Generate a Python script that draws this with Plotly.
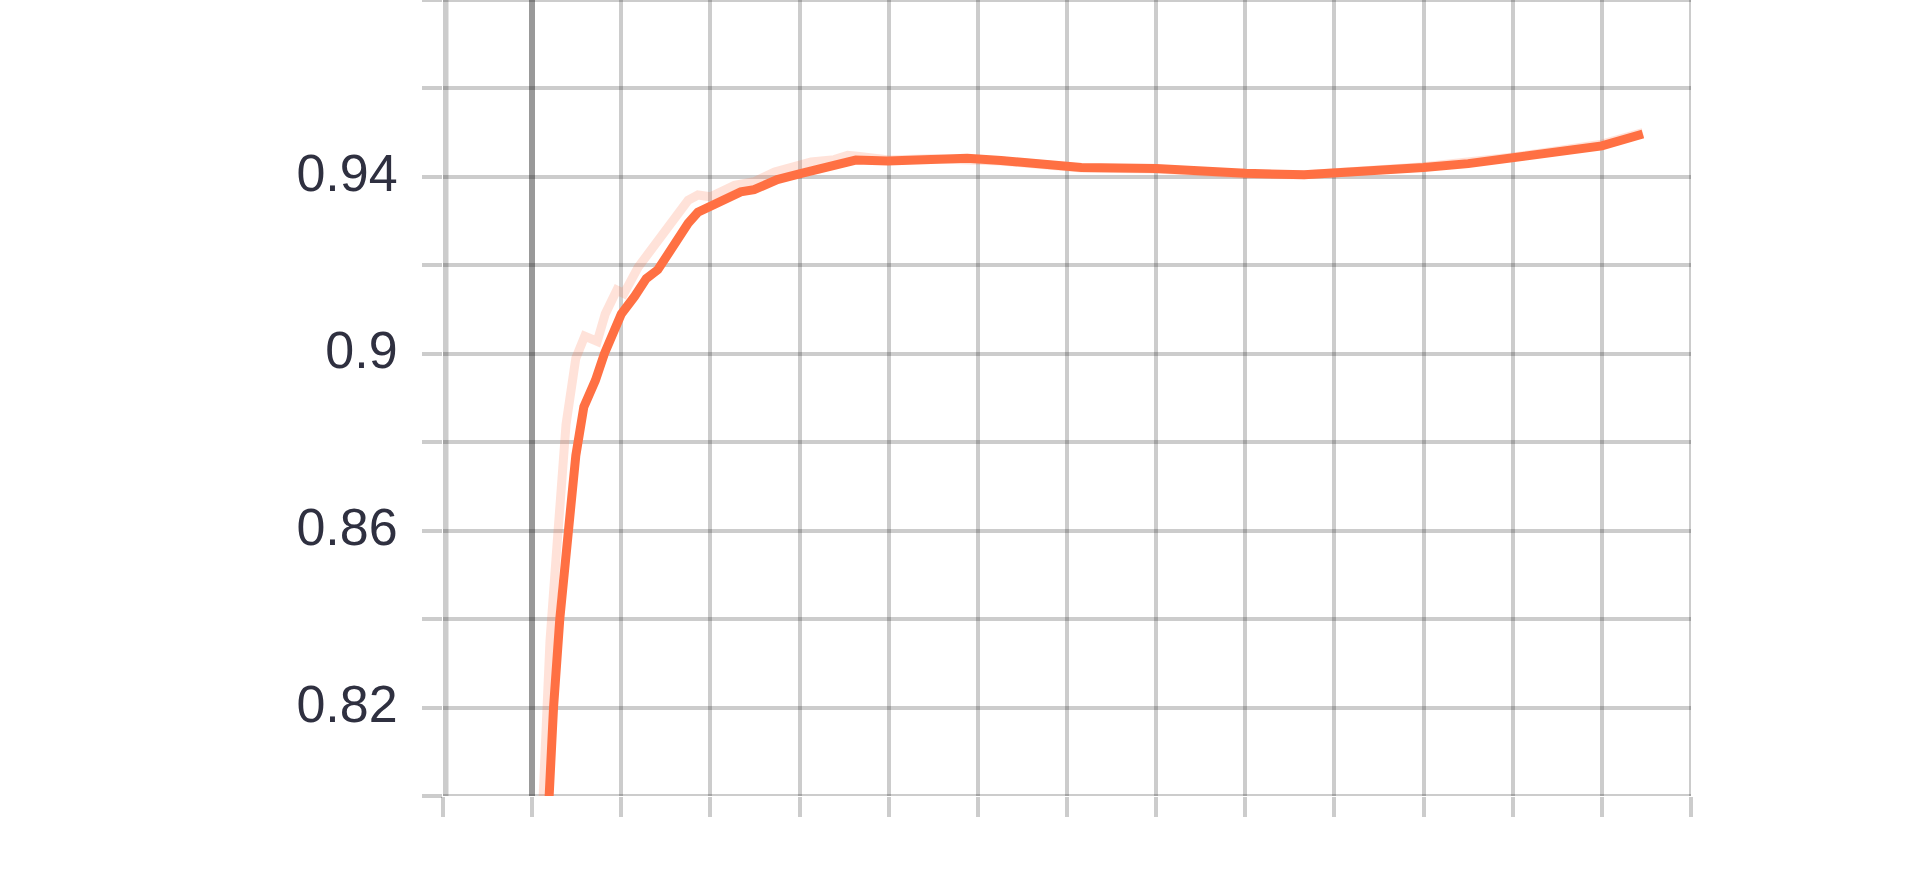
import plotly.graph_objects as go

# Training steps (arbitrary units; axis shows no labels)
raw_steps = [0.08, 0.12, 0.20, 0.28, 0.38, 0.49, 0.59, 0.73, 0.82, 0.95, 1.03, 1.19,
             1.41, 1.60, 1.75, 1.86, 2.00, 2.27, 2.49, 2.72, 2.87, 3.13, 3.39, 3.54,
             3.65, 4.00, 4.47, 4.88, 5.26, 6.16, 7.00, 8.00, 8.66, 9.26, 10.00, 11.01,
             12.00, 12.46]
raw_values = [0.780, 0.800, 0.835, 0.857, 0.884, 0.899, 0.904, 0.9028, 0.909, 0.9144,
              0.9136, 0.9196, 0.9257, 0.931, 0.9347, 0.9359, 0.9355, 0.9381, 0.9389,
              0.9411, 0.9419, 0.9434, 0.9439, 0.9449, 0.9447, 0.9438, 0.9441, 0.944,
              0.9436, 0.942, 0.9418, 0.9406, 0.9405, 0.9413, 0.9423, 0.9445, 0.9474,
              0.9500]

smooth_steps = [0.08, 0.18, 0.24, 0.31, 0.41, 0.49, 0.58, 0.71, 0.81, 0.93, 1.00, 1.15,
                1.28, 1.41, 1.60, 1.75, 1.86, 2.08, 2.34, 2.49, 2.75, 3.02, 3.24, 3.43,
                3.63, 3.99, 4.47, 4.88, 5.26, 5.60, 6.16, 7.00, 7.50, 8.00, 8.66, 9.26,
                10.00, 10.50, 11.01, 11.50, 12.00, 12.46]
smooth_values = [0.755, 0.800, 0.820, 0.840, 0.860, 0.877, 0.888, 0.894, 0.900, 0.906,
                 0.909, 0.913, 0.917, 0.919, 0.925, 0.9295, 0.932, 0.934, 0.9366, 0.9371,
                 0.9394, 0.9408, 0.942, 0.9426, 0.9438, 0.9436, 0.9439, 0.9442, 0.9437,
                 0.9432, 0.9421, 0.9419, 0.9413, 0.9408, 0.9405, 0.9411, 0.9421, 0.9430,
                 0.9442, 0.9455, 0.947, 0.9497]

x_ticks = list(range(-1, 14))
y_ticks = [0.80, 0.82, 0.84, 0.86, 0.88, 0.90, 0.92, 0.94, 0.96, 0.98]
y_tick_text = ["", "0.82", "", "0.86", "", "0.9", "", "0.94", "", ""]

GRID = "rgba(0,0,0,0.2)"
ORANGE = "#ff7043"

fig = go.Figure()
fig.add_trace(go.Scatter(x=raw_steps, y=raw_values, mode="lines",
                         line=dict(color="rgba(255,112,67,0.2)", width=9),
                         hoverinfo="skip", showlegend=False))
fig.add_trace(go.Scatter(x=smooth_steps, y=smooth_values, mode="lines",
                         line=dict(color=ORANGE, width=9),
                         showlegend=False))

# grid lines that sit on the plot edges (plotly hides them); clipped to the plot area
x0, x1 = x_ticks[0], x_ticks[-1]
y0, y1 = y_ticks[0], y_ticks[-1]
edge_lines = [
    (x0, y0, x0, y1, 11),
    (x1, y0, x1, y1, 4),
    (x0, y0, x1, y0, 4),
    (x0, y1, x1, y1, 4),
]
for ax0, ay0, ax1, ay1, w in edge_lines:
    fig.add_shape(type="line", xref="x", yref="y", x0=ax0, y0=ay0, x1=ax1, y1=ay1,
                  line=dict(color=GRID, width=w), layer="below")

fig.update_layout(
    width=1920, height=893,
    margin=dict(l=443, r=229, t=0, b=97, pad=0),
    paper_bgcolor="white", plot_bgcolor="white",
    font=dict(family="Liberation Sans, Arial, sans-serif", size=52, color="#2f3040"),
    xaxis=dict(range=[x0, x1], tickmode="array", tickvals=x_ticks,
               showticklabels=False, ticks="outside", ticklen=20, tickwidth=4,
               tickcolor=GRID, showgrid=True, gridcolor=GRID, gridwidth=4,
               zeroline=True, zerolinecolor="rgba(0,0,0,0.4)", zerolinewidth=6,
               showline=False, fixedrange=True),
    yaxis=dict(range=[y0, y1], tickmode="array", tickvals=y_ticks,
               ticktext=y_tick_text, ticks="outside", ticklen=20, tickwidth=4,
               tickcolor=GRID, showgrid=True, gridcolor=GRID, gridwidth=4,
               zeroline=False, showline=False, ticklabelstandoff=14,
               ticklabelshift=-4, fixedrange=True),
)

fig.write_html("out.html", config={"displayModeBar": False},
               post_script="document.body.style.margin='0';document.body.style.overflow='hidden';")
